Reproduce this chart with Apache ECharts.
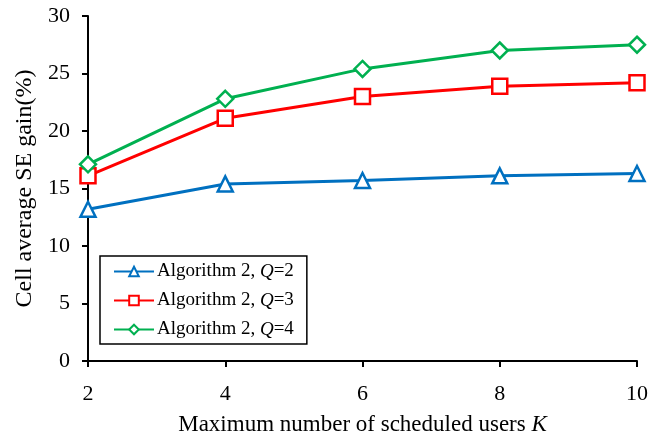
<!DOCTYPE html>
<html>
<head>
<meta charset="utf-8">
<script src="https://cdn.jsdelivr.net/npm/echarts@6/dist/echarts.min.js"></script>
<style>html,body{margin:0;padding:0;background:#fff}#c{width:665px;height:441px}</style>
</head>
<body>
<div id="c"></div>
<script>
const xValues = [2, 4, 6, 8, 10];
const q2 = [13.2, 15.4, 15.7, 16.1, 16.3];
const q3 = [16.1, 21.1, 23.0, 23.9, 24.2];
const q4 = [17.1, 22.8, 25.4, 27.0, 27.5];
const seriesNames = ['Algorithm 2, Q=2', 'Algorithm 2, Q=3', 'Algorithm 2, Q=4'];
const legendLabels = ['Algorithm 2, {i|Q}=2', 'Algorithm 2, {i|Q}=3', 'Algorithm 2, {i|Q}=4'];
const xTitle = 'Maximum number of scheduled users ';
const yTitle = 'Cell average SE gain(%)';

const font = 'Liberation Serif';
const colors = ['#0070C0', '#FF0000', '#00B050'];
const symbols = ['triangle', 'rect', 'diamond'];
const sizes = [15, 15, 16];
const datas = [q2, q3, q4];

const chart = echarts.init(document.getElementById('c'), null, {renderer: 'canvas'});
const series = datas.map((d, k) => ({
  name: seriesNames[k],
  type: 'line',
  data: d.map((v, j) => [xValues[j], v]),
  symbol: symbols[k],
  symbolSize: sizes[k],
  showAllSymbol: true,
  lineStyle: {color: colors[k], width: 3},
  itemStyle: {color: '#fff', borderColor: colors[k], borderWidth: 2.5},
  emphasis: {disabled: true},
  animation: false
}));

chart.setOption({
  animation: false,
  backgroundColor: '#fff',
  grid: {left: 88, right: 28, top: 16, bottom: 78, containLabel: false},
  xAxis: {
    type: 'value', min: 2, max: 10, interval: 2,
    axisLine: {lineStyle: {color: '#000', width: 2}},
    axisTick: {show: true, inside: false, length: 6, lineStyle: {color: '#000', width: 2}},
    axisLabel: {color: '#000', fontFamily: font, fontSize: 22, margin: 22},
    splitLine: {show: false},
    name: '{n|' + xTitle + '}{i|K}',
    nameLocation: 'middle', nameGap: 52,
    nameTextStyle: {
      rich: {
        n: {fontFamily: font, fontSize: 23, color: '#000'},
        i: {fontFamily: font, fontSize: 23, color: '#000', fontStyle: 'italic'}
      }
    }
  },
  yAxis: {
    type: 'value', min: 0, max: 30, interval: 5,
    axisLine: {show: true, lineStyle: {color: '#000', width: 2}},
    axisTick: {show: true, inside: false, length: 6, lineStyle: {color: '#000', width: 2}},
    axisLabel: {color: '#000', fontFamily: font, fontSize: 22, margin: 18},
    splitLine: {show: false},
    name: yTitle, nameLocation: 'middle', nameGap: 46,
    nameTextStyle: {fontFamily: font, fontSize: 24, color: '#000'}
  },
  legend: {
    show: true,
    left: 100, top: 256,
    orient: 'vertical',
    padding: [6, 13, 5, 13],
    itemGap: 10,
    itemWidth: 40, itemHeight: 12,
    borderColor: '#000', borderWidth: 1.5, borderRadius: 0,
    backgroundColor: '#fff',
    data: seriesNames,
    formatter: function (name) { return legendLabels[seriesNames.indexOf(name)]; },
    textStyle: {
      fontFamily: font, fontSize: 19, color: '#000', padding: [0, 0, 0, -2],
      rich: {
        i: {fontFamily: font, fontSize: 19, color: '#000', fontStyle: 'italic'}
      }
    }
  },
  series: series
});
</script>
</body>
</html>
